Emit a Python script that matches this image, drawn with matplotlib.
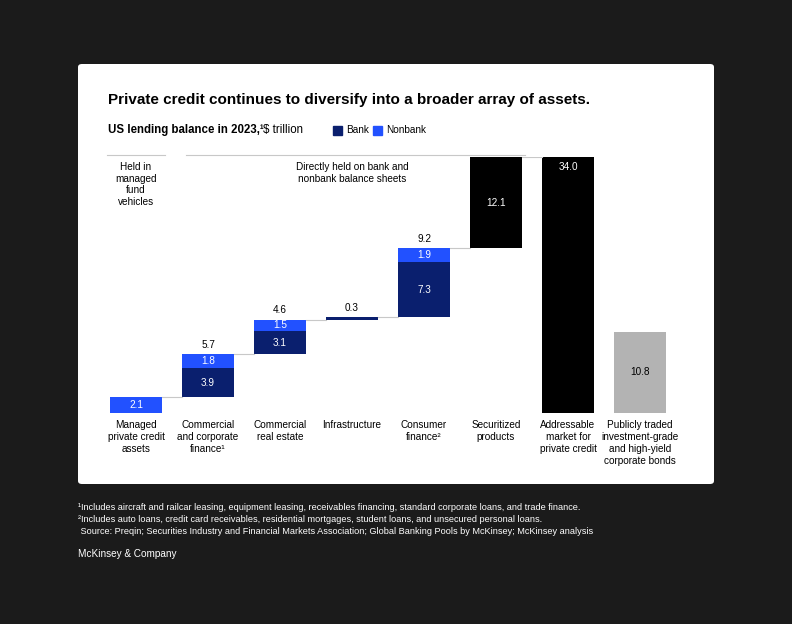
import matplotlib.pyplot as plt
from matplotlib.patches import FancyBboxPatch, Rectangle

plt.rcParams["font.family"] = ["Liberation Sans", "DejaVu Sans"]

W, H = 792, 624
categories = ["Managed\nprivate credit\nassets", "Commercial\nand corporate\nfinance¹", "Commercial\nreal estate",
              "Infrastructure", "Consumer\nfinance²", "Securitized\nproducts", "Addressable\nmarket for\nprivate credit",
              "Publicly traded\ninvestment-grade\nand high-yield\ncorporate bonds"]
bank = [0, 3.9, 3.1, 0.3, 7.3, 0, 0, 0]
nonbank = [2.1, 1.8, 1.5, 0, 1.9, 0, 0, 0]
other = [0, 0, 0, 0, 0, 12.1, 34.0, 10.8]
totals = [None, 5.7, 4.6, 0.3, 9.2, None, None, None]

BANK = "#0a1f6e"
NONBANK = "#2251ff"
BG = "#1b1b1b"
FS = 7.2

fig = plt.figure(figsize=(W / 100, H / 100), dpi=100, facecolor=BG)
fig.patches.append(FancyBboxPatch((78 / W, 1 - 484 / H), (714 - 78) / W, (484 - 64) / H,
                                  boxstyle="round,pad=0,rounding_size=0.005", transform=fig.transFigure,
                                  facecolor="white", edgecolor="none", zorder=-5))

def fx(px):
    return px / W

def fy(py):
    return 1 - py / H

fig.text(fx(108), fy(100), "Private credit continues to diversify into a broader array of assets.",
         fontsize=11, fontweight="bold", va="center")
fig.text(fx(108), fy(130), "US lending balance in 2023,¹", fontsize=8.3, fontweight="bold", va="center")
fig.text(fx(263), fy(130), "$ trillion", fontsize=8.3, va="center")
fig.patches.append(Rectangle((fx(333), fy(135)), 9 / W, 9 / H, transform=fig.transFigure, color=BANK))
fig.text(fx(346), fy(130), "Bank", fontsize=FS, va="center")
fig.patches.append(Rectangle((fx(373), fy(135)), 9 / W, 9 / H, transform=fig.transFigure, color=NONBANK))
fig.text(fx(386), fy(130), "Nonbank", fontsize=FS, va="center")

ax = fig.add_axes([100 / W, 1 - 413 / H, (697.6 - 100) / W, 256 / H])
ax.set_xlim(-0.5, 7.8)
ax.set_ylim(0, 34)
ax.axis("off")

x = list(range(len(categories)))
bw = 0.72
base = 0.0
for i in x:
    b0 = 0 if i in (0, 6, 7) else base
    if bank[i]:
        ax.bar(i, bank[i], bw, bottom=b0, color=BANK)
        if bank[i] > 1:
            ax.text(i, b0 + bank[i] / 2, f"{bank[i]:.1f}", color="white", ha="center", va="center", fontsize=FS)
    if nonbank[i]:
        ax.bar(i, nonbank[i], bw, bottom=b0 + bank[i], color=NONBANK)
        ax.text(i, b0 + bank[i] + nonbank[i] / 2, f"{nonbank[i]:.1f}", color="white", ha="center", va="center", fontsize=FS)
    if other[i]:
        col = "#b3b3b3" if i == 7 else "black"
        ax.bar(i, other[i], bw, bottom=b0, color=col)
        tc = "black" if i == 7 else "white"
        ypos = b0 + other[i] - 1.3 if i == 6 else b0 + other[i] / 2
        ax.text(i, ypos, f"{other[i]:.1f}", color=tc, ha="center", va="center", fontsize=FS)
    top = b0 + bank[i] + nonbank[i] + other[i]
    if totals[i] is not None:
        ax.text(i, top + 0.6, f"{totals[i]:.1f}", ha="center", va="bottom", fontsize=FS, clip_on=False)
    if i < 6:
        ax.plot([i + bw / 2, i + 1 - bw / 2], [top, top], color="#c8c8c8", lw=0.8)
    base = top
    ax.text(i, -0.9, categories[i], ha="center", va="top", fontsize=FS, linespacing=1.25, clip_on=False)

# bracket annotations
ax.plot([-0.4, 0.4], [34.2, 34.2], color="#c8c8c8", lw=0.8, clip_on=False)
ax.plot([0.7, 5.4], [34.2, 34.2], color="#c8c8c8", lw=0.8, clip_on=False)
ax.text(0, 33.3, "Held in\nmanaged\nfund\nvehicles", ha="center", va="top", fontsize=FS, linespacing=1.2)
ax.text(3.0, 33.3, "Directly held on bank and\nnonbank balance sheets", ha="center", va="top", fontsize=FS,
        linespacing=1.2)

notes = ["¹Includes aircraft and railcar leasing, equipment leasing, receivables financing, standard corporate loans, and trade finance.",
         "²Includes auto loans, credit card receivables, residential mortgages, student loans, and unsecured personal loans.",
         " Source: Preqin; Securities Industry and Financial Markets Association; Global Banking Pools by McKinsey; McKinsey analysis"]
for k, n in enumerate(notes):
    fig.text(fx(78), fy(507 + 12.5 * k), n, color="white", fontsize=6.6, va="center")
fig.text(fx(78), fy(554), "McKinsey & Company", color="white", fontsize=7.2, va="center")

fig.savefig("out.png", dpi=100, facecolor=BG)
